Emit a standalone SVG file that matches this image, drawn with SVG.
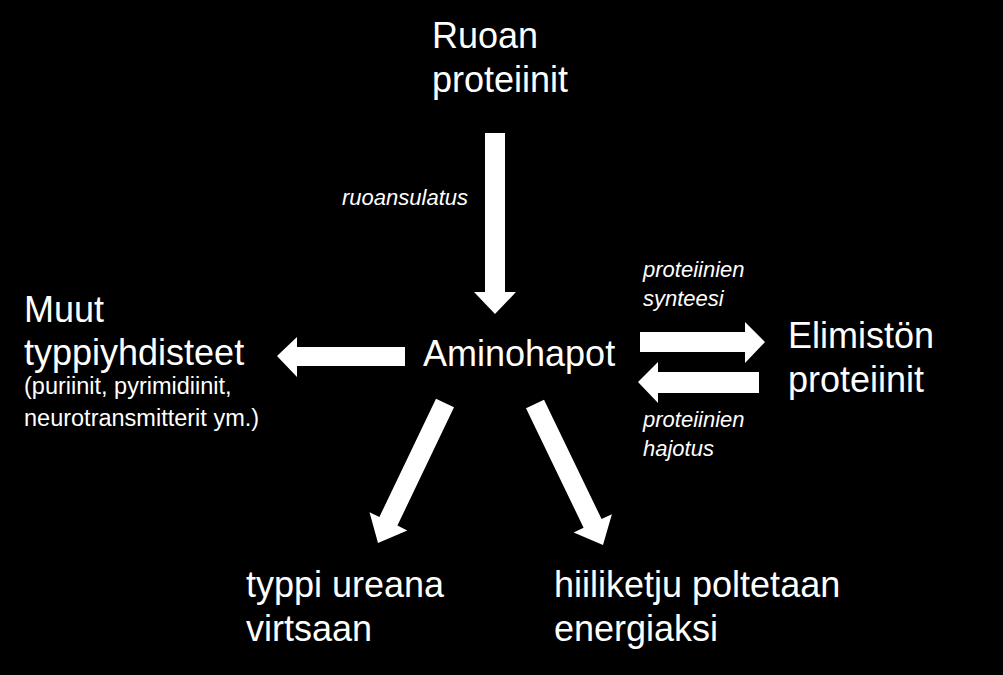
<svg xmlns="http://www.w3.org/2000/svg" width="1003" height="675" viewBox="0 0 1003 675">
<style>
.big{font-family:"Liberation Sans",Arial,sans-serif;font-size:36px;fill:#fff}
.small{font-family:"Liberation Sans",Arial,sans-serif;font-size:23.5px;fill:#fff}
.lbl{font-family:"Liberation Sans",Arial,sans-serif;font-size:22px;font-style:italic;fill:#fff}
.arr{fill:#fff;stroke:none}
</style>
<rect width="1003" height="675" fill="#000"/>
<g id="connectors">
<polygon class="arr" points="485,133 505,133 505,292 516,292 495,314 474,292 485,292"/>
<polygon class="arr" points="405,347 405,366 297,366 297,377 277,356 297,337 297,347"/>
<polygon class="arr" points="640,332 745,332 745,322 765,342 745,363 745,352 640,352"/>
<polygon class="arr" points="759,372 759,393 658,393 658,403 638,382 658,362 658,372"/>
<polygon class="arr" points="436,398.7 454,407.3 397.4,525.6 407.3,530.4 378,543 369.5,512.2 379.4,517"/>
<polygon class="arr" points="526,408.3 544,399.7 601.6,519.1 611.9,514.3 603,545 573.7,532.5 583.6,527.7"/>
<text class="lbl" x="342" y="205">ruoansulatus</text>
<text class="lbl" x="643" y="277">proteiinien</text>
<text class="lbl" x="643" y="306">synteesi</text>
<text class="lbl" x="643" y="427">proteiinien</text>
<text class="lbl" x="643" y="456">hajotus</text>
</g>
<g id="ruoan"><text class="big" x="432" y="48">Ruoan</text><text class="big" x="432" y="92">proteiinit</text></g>
<g id="aminohapot"><text class="big" x="423" y="366">Aminohapot</text></g>
<g id="muut"><text class="big" x="24" y="322">Muut</text><text class="big" x="24" y="365">typpiyhdisteet</text><text class="small" x="24" y="394">(puriinit, pyrimidiinit,</text><text class="small" x="24" y="426">neurotransmitterit ym.)</text></g>
<g id="elimiston"><text class="big" x="788" y="348">Elimistön</text><text class="big" x="788" y="392">proteiinit</text></g>
<g id="urea"><text class="big" x="246" y="597">typpi ureana</text><text class="big" x="246" y="641">virtsaan</text></g>
<g id="energia"><text class="big" x="554" y="597">hiiliketju poltetaan</text><text class="big" x="554" y="641">energiaksi</text></g>
</svg>
